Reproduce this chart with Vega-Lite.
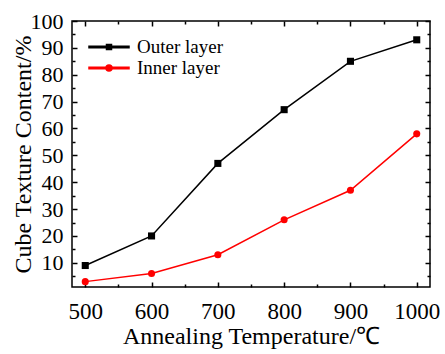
{
  "$schema": "https://vega.github.io/schema/vega-lite/v6.json",
  "width": 358,
  "height": 266,
  "autosize": {"type": "none"},
  "padding": {"left": 72, "top": 21, "right": 15, "bottom": 67},
  "background": "white",
  "config": {
    "view": {"stroke": "black", "strokeWidth": 1.5},
    "axis": {
      "grid": false,
      "domain": false,
      "tickColor": "black",
      "tickWidth": 1.5,
      "labelFont": "Liberation Serif",
      "labelFontSize": 22,
      "labelColor": "black",
      "titleFont": "Liberation Serif",
      "titleFontSize": 24,
      "titleFontWeight": "normal",
      "titleColor": "black"
    }
  },
  "data": {
    "values": [
      {"temp": 500, "value": 9, "series": "Outer layer"},
      {"temp": 600, "value": 20, "series": "Outer layer"},
      {"temp": 700, "value": 47, "series": "Outer layer"},
      {"temp": 800, "value": 67, "series": "Outer layer"},
      {"temp": 900, "value": 85, "series": "Outer layer"},
      {"temp": 1000, "value": 93, "series": "Outer layer"},
      {"temp": 500, "value": 3, "series": "Inner layer"},
      {"temp": 600, "value": 6, "series": "Inner layer"},
      {"temp": 700, "value": 13, "series": "Inner layer"},
      {"temp": 800, "value": 26, "series": "Inner layer"},
      {"temp": 900, "value": 37, "series": "Inner layer"},
      {"temp": 1000, "value": 58, "series": "Inner layer"}
    ]
  },
  "layer": [
    {
      "mark": {"type": "point", "filled": true, "opacity": 0, "size": 50},
      "encoding": {
        "x": {"field": "temp", "type": "quantitative", "scale": {"domain": [480, 1020], "nice": false, "zero": false},
          "axis": {"orient": "bottom", "values": [500, 600, 700, 800, 900, 1000], "format": "d", "tickSize": -5, "labelPadding": 18, "labelFont": "Liberation Serif", "labelFontSize": 23, "title": "Annealing Temperature/℃", "titlePadding": 1}},
        "y": {"field": "value", "type": "quantitative", "scale": {"domain": [1, 100], "nice": false, "zero": false},
          "axis": {"orient": "left", "values": [10, 20, 30, 40, 50, 60, 70, 80, 90, 100], "format": "d", "tickSize": -5, "labelPadding": 14, "labelFont": "Liberation Serif", "labelFontSize": 22, "title": "Cube Texture Content/%", "titlePadding": -5}},
        "color": {"field": "series", "type": "nominal", "scale": {"domain": ["Outer layer", "Inner layer"], "range": ["black", "red"]},
          "legend": {
            "orient": "none", "legendX": 26, "legendY": 15, "title": null, "symbolSize": 400, "symbolOpacity": 1, "labelOffset": 17,
            "labelFont": "Liberation Serif", "labelFontSize": 19, "labelColor": "black", "rowPadding": 0, "padding": 0
          }},
        "shape": {"field": "series", "type": "nominal",
          "scale": {"domain": ["Outer layer", "Inner layer"], "range": ["M-2,-0.075H2V0.075H-2Z M-0.25,-0.25H0.25V0.25H-0.25Z", "M-2,-0.075H2V0.075H-2Z M0.3,0A0.3,0.3,0,1,1,-0.3,0A0.3,0.3,0,1,1,0.3,0Z"]},
          "legend": null}
      }
    },
    {
      "mark": {"type": "line", "strokeWidth": 1.5},
      "encoding": {
        "x": {"field": "temp", "type": "quantitative", "scale": {"domain": [480, 1020], "nice": false, "zero": false},
          "axis": {"orient": "bottom", "values": [550, 650, 750, 850, 950], "tickSize": -3, "labels": false, "title": null}},
        "y": {"field": "value", "type": "quantitative", "scale": {"domain": [1, 100], "nice": false, "zero": false},
          "axis": {"orient": "left", "values": [5, 15, 25, 35, 45, 55, 65, 75, 85, 95], "tickSize": -3, "labels": false, "title": null}},
        "color": {"field": "series", "type": "nominal", "legend": null}
      }
    },
    {
      "transform": [{"filter": "datum.series === 'Outer layer'"}],
      "mark": {"type": "point", "filled": true, "opacity": 1, "size": 50, "shape": "square", "color": "black"},
      "encoding": {
        "x": {"field": "temp", "type": "quantitative", "scale": {"domain": [480, 1020], "nice": false, "zero": false},
          "axis": {"orient": "top", "values": [500, 600, 700, 800, 900, 1000], "tickSize": -5, "labels": false, "title": null}},
        "y": {"field": "value", "type": "quantitative", "scale": {"domain": [1, 100], "nice": false, "zero": false},
          "axis": {"orient": "right", "values": [10, 20, 30, 40, 50, 60, 70, 80, 90, 100], "tickSize": -5, "labels": false, "title": null}}
      }
    },
    {
      "transform": [{"filter": "datum.series === 'Inner layer'"}],
      "mark": {"type": "point", "filled": true, "opacity": 1, "size": 50, "shape": "circle", "color": "red"},
      "encoding": {
        "x": {"field": "temp", "type": "quantitative", "scale": {"domain": [480, 1020], "nice": false, "zero": false},
          "axis": {"orient": "top", "values": [550, 650, 750, 850, 950], "tickSize": -3, "labels": false, "title": null}},
        "y": {"field": "value", "type": "quantitative", "scale": {"domain": [1, 100], "nice": false, "zero": false},
          "axis": {"orient": "right", "values": [5, 15, 25, 35, 45, 55, 65, 75, 85, 95], "tickSize": -3, "labels": false, "title": null}}
      }
    }
  ],
  "resolve": {"axis": {"x": "independent", "y": "independent"}}
}
